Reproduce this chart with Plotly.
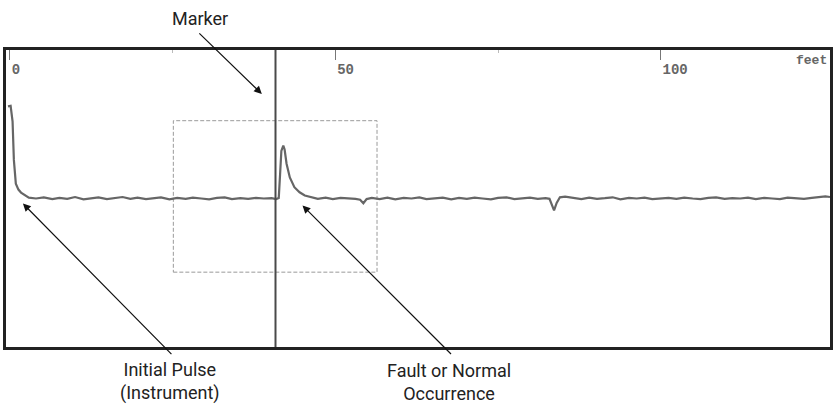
import plotly.graph_objects as go

# ---- data (distance in feet, relative trace level) ----
pulse_ft = [-0.3, 0.1, 0.4, 0.6, 0.9, 1.3, 1.7, 2.3, 2.9]
pulse_lv = [81.0, 81.2, 76.0, 63.0, 55.0, 53.0, 52.0, 51.0, 50.3]

base1_ft = [4.0, 5.2, 6.5, 7.6, 8.8, 10.0, 11.3, 12.5, 13.6, 14.9, 16.0, 17.3, 18.5, 19.6,
            20.9, 22.0, 23.2, 24.5, 25.7, 27.0, 28.1, 29.4, 30.6, 31.8, 33.0, 34.1, 35.4,
            36.6, 37.8, 39.0, 40.2, 40.9, 41.3]
base1_lv = [50.0, 50.4, 49.8, 50.2, 49.9, 50.5, 49.7, 50.1, 50.4, 49.8, 50.2, 50.5, 49.9, 50.3,
            49.8, 50.1, 50.4, 49.7, 50.2, 49.9, 50.3, 50.0, 49.7, 50.2, 50.4, 49.8, 50.1,
            49.9, 50.2, 50.0, 50.1, 49.8, 50.2]

fault_ft = [41.5, 41.7, 42.0, 42.2, 42.5, 43.0, 43.7, 44.5, 45.3, 46.3, 47.3]
fault_lv = [58.0, 66.0, 67.8, 66.5, 61.7, 57.1, 53.8, 52.1, 51.0, 50.4, 49.9]

base2_ft = [48.5, 49.6, 50.8, 52.0, 53.1, 53.8, 54.3, 54.8, 55.6,
            56.8, 58.0, 59.2, 60.5, 61.7, 62.9, 64.0, 65.3, 66.5, 67.8, 69.0, 70.2,
            71.4, 72.6, 73.9, 75.0, 76.3, 77.5, 78.7, 79.9, 81.1, 82.3]
base2_lv = [50.3, 49.8, 50.2, 50.1, 49.9, 49.6, 48.4, 49.8, 50.2,
            49.8, 50.3, 49.7, 50.2, 50.0, 50.4, 49.8, 50.1, 50.3, 49.7, 50.2, 49.9,
            50.3, 50.0, 49.7, 50.2, 50.4, 49.8, 50.1, 50.3, 49.9, 50.1]

dip_ft = [82.9, 83.3, 83.6, 84.0, 84.5, 85.3]
dip_lv = [49.9, 48.0, 46.0, 48.5, 50.4, 50.6]

base3_ft = [86.5, 87.8, 89.0, 90.2, 91.4, 92.6, 93.8, 95.1, 96.3, 97.5, 98.7, 100.0,
            101.2, 102.4, 103.6, 104.9, 106.1, 107.3, 108.5, 109.8, 111.0, 112.2, 113.4,
            114.6, 115.9, 117.1, 118.3, 119.5, 120.8, 122.0, 123.2, 124.4, 125.3, 126.0]
base3_lv = [50.2, 49.8, 50.3, 49.9, 50.1, 50.4, 49.7, 50.2, 50.0, 50.3, 49.8, 50.1,
            50.2, 49.9, 50.3, 50.0, 49.8, 50.2, 50.4, 49.9, 50.1, 50.0, 50.3,
            49.8, 50.2, 50.0, 49.8, 50.3, 50.1, 49.9, 50.2, 50.4, 50.7, 50.5]

marker_ft = 40.8
window_ft = [25.1, 56.4]
window_lv = [25.2, 76.2]
tick_vals = [0, 50, 100]
tick_text = ["0", "50", "100"]
minor_vals = [25, 75]
x_range = [-0.61, 126.0]
y_range = [0, 100]

dist = pulse_ft + base1_ft + fault_ft + base2_ft + dip_ft + base3_ft
level = pulse_lv + base1_lv + fault_lv + base2_lv + dip_lv + base3_lv

LABEL_FONT = "Roboto, Arial, sans-serif"
MONO = "Liberation Mono, DejaVu Sans Mono, monospace"

fig = go.Figure()
fig.add_trace(go.Scatter(x=dist, y=level, mode="lines",
                         line=dict(color="#666666", width=2.2), hoverinfo="skip",
                         showlegend=False))

# dashed window box
fig.add_shape(type="rect", x0=window_ft[0], x1=window_ft[1], y0=window_lv[0], y1=window_lv[1],
              xref="x", yref="y", line=dict(color="#9a9a9a", width=1, dash="4px,2px"),
              fillcolor="rgba(0,0,0,0)", layer="below")
# marker line
fig.add_shape(type="line", x0=marker_ft, x1=marker_ft, y0=y_range[0], y1=y_range[1],
              xref="x", yref="y", line=dict(color="#4a4a4a", width=2))

# arrows (tips in data coordinates, tails as pixel offsets)
arrow_common = dict(showarrow=True, arrowhead=2, arrowsize=1.3, arrowwidth=1.2,
                    arrowcolor="#111111", text="", xref="x", yref="y")
fig.add_annotation(x=38.7, y=85.2, ax=-64, ay=-62, **arrow_common)
fig.add_annotation(x=1.99, y=48.3, ax=150, ay=152, **arrow_common)
fig.add_annotation(x=44.95, y=47.65, ax=150, ay=150, **arrow_common)

# labels
lab_font = dict(family=LABEL_FONT, size=18, color="#222222")
fig.add_annotation(x=0.2355, y=1.107, xref="paper", yref="paper", text="Marker",
                   showarrow=False, font=lab_font, xanchor="center", yanchor="middle")
fig.add_annotation(x=0.1993, y=-0.117, xref="paper", yref="paper",
                   text="Initial Pulse<br>(Instrument)", showarrow=False, font=lab_font,
                   align="center", xanchor="center", yanchor="middle")
fig.add_annotation(x=0.5374, y=-0.117, xref="paper", yref="paper",
                   text="Fault or Normal<br>Occurrence", showarrow=False, font=lab_font,
                   align="center", xanchor="center", yanchor="middle")
fig.add_annotation(x=0.999, y=0.963, xref="paper", yref="paper", text="feet",
                   showarrow=False, xanchor="right", yanchor="middle",
                   font=dict(family=MONO, size=13, color="#666666", weight="bold"))

fig.update_xaxes(range=x_range, side="top", tickvals=tick_vals, ticktext=tick_text,
                 ticks="inside", ticklen=10, tickcolor="#777777", tickwidth=1,
                 ticklabelposition="inside right", ticklabelstandoff=11,
                 tickfont=dict(family=MONO, size=14, color="#666666", weight="bold"),
                 minor=dict(tickvals=minor_vals, ticks="inside", ticklen=3,
                            tickcolor="#bbbbbb"),
                 showgrid=False, zeroline=False, showline=True, mirror=True,
                 linecolor="#222222", linewidth=2.5)
fig.update_yaxes(range=y_range, showticklabels=False, ticks="", showgrid=False,
                 zeroline=False, showline=True, mirror=True, linecolor="#222222",
                 linewidth=2.5)

fig.update_layout(width=835, height=408, margin=dict(l=6, r=2, t=50, b=61),
                  paper_bgcolor="white", plot_bgcolor="white")

fig.write_html("out.html", config={"displayModeBar": False},
               post_script="document.body.style.margin='0';")
